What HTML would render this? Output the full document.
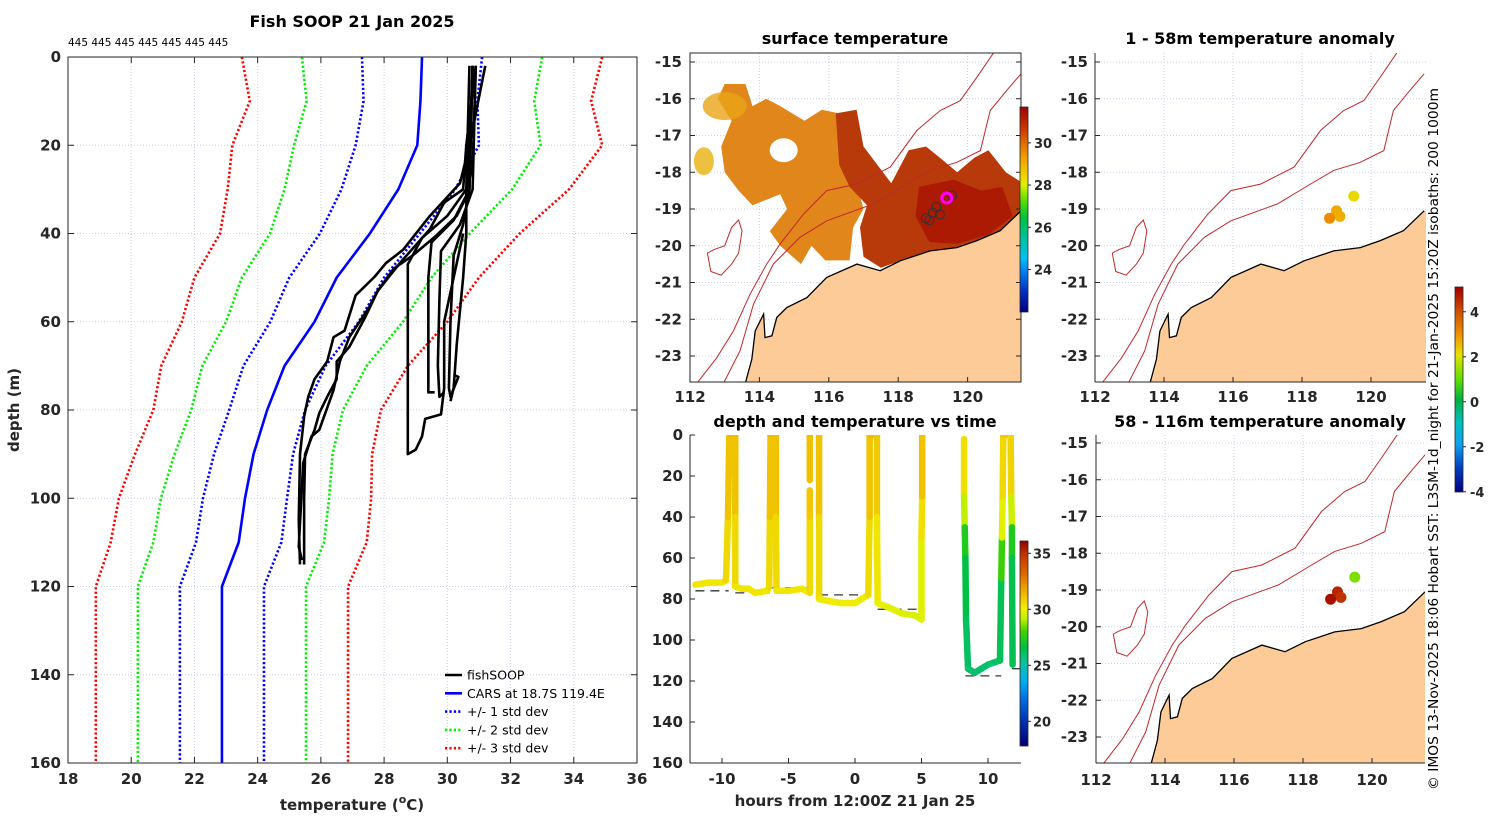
<!DOCTYPE html>
<html><head><meta charset="utf-8">
<style>
html,body{margin:0;padding:0;background:#fff;}
svg{display:block;font-family:"DejaVu Sans","Liberation Sans",sans-serif;}
.tk{font-size:15px;font-weight:bold;fill:#262626;}
.ttl{font-size:16px;font-weight:bold;fill:#000;}
</style></head>
<body>
<svg id="chart" width="1500" height="820" viewBox="0 0 1500 820" xmlns="http://www.w3.org/2000/svg">
<defs>
<clipPath id="clipL"><rect x="68" y="57" width="569" height="706"/></clipPath>
<clipPath id="clipT"><rect x="690" y="435" width="331" height="328"/></clipPath>
<clipPath id="clipM1"><rect x="690" y="53" width="331" height="329"/></clipPath>
<clipPath id="clipM2"><rect x="1095" y="53" width="331" height="329"/></clipPath>
<clipPath id="clipM3"><rect x="1096" y="435" width="329" height="328"/></clipPath>
<linearGradient id="cb1" x1="0" y1="0" x2="0" y2="1">
<stop offset="0" stop-color="#a00000"/><stop offset="0.12" stop-color="#d04000"/><stop offset="0.18" stop-color="#e07000"/><stop offset="0.25" stop-color="#f0a000"/><stop offset="0.33" stop-color="#f0d000"/><stop offset="0.38" stop-color="#e0f000"/><stop offset="0.45" stop-color="#60e000"/><stop offset="0.54" stop-color="#00c040"/><stop offset="0.64" stop-color="#00c0a0"/><stop offset="0.74" stop-color="#00c0f0"/><stop offset="0.8" stop-color="#0080f0"/><stop offset="0.9" stop-color="#0030c0"/><stop offset="1" stop-color="#000080"/>
</linearGradient>
<linearGradient id="cb2" x1="0" y1="0" x2="0" y2="1">
<stop offset="0" stop-color="#900000"/><stop offset="0.06" stop-color="#c03000"/><stop offset="0.17" stop-color="#e07000"/><stop offset="0.25" stop-color="#f0b000"/><stop offset="0.33" stop-color="#f0f000"/><stop offset="0.38" stop-color="#c0f000"/><stop offset="0.44" stop-color="#40d000"/><stop offset="0.52" stop-color="#00c040"/><stop offset="0.6" stop-color="#10c0a0"/><stop offset="0.68" stop-color="#00b0f0"/><stop offset="0.77" stop-color="#0070e0"/><stop offset="0.88" stop-color="#0030b0"/><stop offset="1" stop-color="#000070"/>
</linearGradient>
<linearGradient id="cb3" x1="0" y1="0" x2="0" y2="1">
<stop offset="0" stop-color="#a00000"/><stop offset="0.12" stop-color="#d05000"/><stop offset="0.23" stop-color="#f09000"/><stop offset="0.33" stop-color="#e8e000"/><stop offset="0.45" stop-color="#60e000"/><stop offset="0.55" stop-color="#00b040"/><stop offset="0.66" stop-color="#00c0c0"/><stop offset="0.77" stop-color="#10a0f0"/><stop offset="0.88" stop-color="#0040c0"/><stop offset="1" stop-color="#000080"/>
</linearGradient>
</defs>
</svg>
<script>
// ---------- data: left profile panel ----------
const carsDepth = [0,10,20,30,40,50,60,70,80,90,100,110,120,160];
const carsMean  = [29.2,29.15,29.05,28.45,27.55,26.5,25.8,24.85,24.3,23.87,23.6,23.4,22.87,22.87];
const carsStd   = [1.9,1.8,1.95,1.8,1.58,1.5,1.4,1.3,1.2,1.25,1.33,1.35,1.33,1.33];
const tempTicks = [18,20,22,24,26,28,30,32,34,36];
const depthTicks = [0,20,40,60,80,100,120,140,160];
const fishT = [
 [30.8,30.7,30.4,29.45,28.6,28.06,27.7,27.1,26.75,26.4,26.2,25.8,25.6,25.47,25.34,25.3,25.34],
 [30.9,30.6,30.5,29.9,29.45,28.5,27.8,27.4,26.9,26.5,26.5,26.2,25.95,25.8,25.5,25.47,25.47],
 [31.2,30.7,30.6,30.3,29.6,28.9,28.3,27.8,27.5,26.9,26.6,26.4,25.95,25.7,25.44,25.3,25.4],
 [30.7,30.6,30.0,29.2,28.75,28.75,28.75,29.0,29.2,29.3,29.8,29.9,29.9,30.2,30.5],
 [30.8,30.7,30.2,29.5,29.4,29.4,29.4,29.6],
 [30.9,30.8,30.4,29.8,29.75,29.7,29.75,29.9],
 [30.8,30.7,30.5,30.2,30.1,30.05,30.1,30.35,30.2],
 [30.9,30.8,30.6,30.6,30.5,30.3,30.2,30.1]
];
const fishD = [
 [2,20,28.6,36,43.7,46.7,49.8,54,62,63.5,69,73,77,81.5,90,105,115],
 [2,20,30,33,39,46.7,53,59,65.7,69,73,77,80.7,84.5,90,100,115],
 [2,20,31.7,36,40.8,45,48,53,57,63.5,69,75.5,84.5,86,92,111,114],
 [2,30,36,41,47,70,90,89,86,82,81,75,60,50,40],
 [2,30,37,42,50,65,76,76],
 [2,30,38,44,55,70,77,76],
 [2,30,38,45,60,75,77,72.5,72],
 [2,25,30,40,50,65,75,78]
];
// ---------- data: time panel ----------
const trackH = [-12.0,-11,-10,-9.7,-9.55,-9.45,-9.0,-9.0,-9.0,-8.5,-8,-7.5,-6.6,-6.45,-6.4,-6.35,-5.95,-5.95,-5.9,-5,-4,-3.4,-3.4,-3.4,NaN,-3.4,-3.4,NaN,-2.7,-2.7,-2.7,-2,-1,0,0.5,1.0,1.1,1.1,1.65,1.65,1.7,2.5,3.5,4.5,5.0,5.0,5.05,5.05,NaN,8.2,8.2,8.25,8.3,8.35,8.5,9,9.5,10,10.9,11.0,11.05,11.1,11.15,11.7,11.75,11.8,11.8,11.85];
const trackD = [73,72,72,71,40,0,0,40,74,75,75,77,76,74,40,0,0,40,76,76,75,77,40,27,NaN,22,0,NaN,0,40,80,81,82,82,80,78,40,0,0,40,82,84,87,88,90,50,30,0,NaN,2,30,45,60,90,114,116,114,112,110,70,50,30,0,0,30,45,60,112];
const trackT = [30.2,30.2,30.2,30.2,30.9,31.2,31.2,30.9,30.2,30.2,30.2,30.2,30.2,30.2,30.9,31.2,31.2,30.9,30.2,30.2,30.2,30.2,30.9,31.0,NaN,31.0,31.2,NaN,31.2,30.9,30.2,30.1,30.1,30.1,30.1,30.1,30.9,31.2,31.2,30.6,29.9,29.8,29.6,29.5,29.4,29.9,30.9,31.2,NaN,30.8,30.0,28.0,26.6,26.2,25.8,25.8,25.8,25.8,25.8,26.5,29.2,30.2,30.9,30.9,30.4,28.0,26.5,26.0];
const bathyH0 = [-12.0,-9.0,-6.4,-2.7,1.7,8.3,11.8];
const bathyH1 = [-9.5,-6.4,-3.4,1.1,5.0,11.0,12.4];
const bathyD  = [76,77,74.5,78,85,117.5,114];
const hourTicks = [-10,-5,0,5,10];
// ---------- data: maps ----------
const lonTicks = [112,114,116,118,120];
const latTicks = [-15,-16,-17,-18,-19,-20,-21,-22,-23];
const coastLon = [113.59,113.78,113.88,114.12,114.16,114.36,114.5,114.79,115.37,115.94,116.81,117.48,118.06,118.92,119.69,120.27,120.94,121.54];
const coastLat = [-23.75,-23.09,-22.32,-21.86,-22.5,-22.45,-21.95,-21.68,-21.41,-20.86,-20.5,-20.68,-20.41,-20.14,-20.05,-19.86,-19.59,-19.05];
const iso200Lon = [112.96,113.44,113.83,114.4,115.17,115.94,117.29,118.25,118.92,119.69,120.37,120.65,121.13,121.54];
const iso200Lat = [-23.75,-22.86,-21.59,-20.5,-19.77,-19.32,-18.86,-18.32,-17.95,-17.73,-17.41,-16.32,-15.77,-15.32];
const iso1000Lon = [112.19,112.77,113.25,113.73,114.21,114.6,115.27,115.94,116.81,117.77,118.54,119.21,119.79,120.27,120.75];
const iso1000Lat = [-23.75,-23.05,-22.32,-21.32,-20.5,-19.95,-19.14,-18.5,-18.32,-17.86,-16.86,-16.32,-16.05,-15.41,-14.75];
const islandLon = [112.5,112.6,112.9,113.2,113.4,113.5,113.4,113.2,113.0,112.7,112.5];
const islandLat = [-20.2,-20.7,-20.8,-20.5,-20.2,-19.6,-19.3,-19.5,-20.0,-20.1,-20.2];
const sstOrangeLon = [113.0,113.6,113.8,114.2,114.6,115.3,115.8,116.3,116.4,116.8,117.0,116.7,116.6,115.9,115.5,115.2,114.6,114.3,114.8,114.6,113.8,113.4,113.0,112.9,113.2,112.8];
const sstOrangeLat = [-15.6,-15.6,-16.2,-16.0,-16.2,-16.6,-16.3,-16.4,-17.8,-18.3,-19.0,-19.5,-20.4,-20.4,-20.0,-20.5,-20.0,-19.6,-19.0,-18.6,-18.9,-18.5,-18.0,-17.3,-16.6,-16.0];
const sstRedLon = [116.2,116.8,117.0,117.4,117.8,118.3,118.8,119.2,119.7,120.2,120.6,121.1,121.6,121.6,120.9,120.3,119.7,118.9,118.1,117.5,117.0,116.9,117.1,116.6,116.3];
const sstRedLat = [-16.4,-16.3,-17.3,-17.8,-18.3,-17.4,-17.3,-17.6,-18.0,-17.6,-17.4,-18.0,-18.3,-19.1,-19.6,-19.85,-20.05,-20.15,-20.4,-20.6,-20.3,-19.5,-18.9,-18.4,-17.8];
const sstDarkLon = [118.6,119.6,120.4,121.0,121.3,120.6,119.7,118.9,118.5];
const sstDarkLat = [-18.4,-18.2,-18.5,-18.4,-19.2,-19.7,-19.95,-19.9,-19.2];
const anomLon = [119.5,119.0,119.1,118.8];
const anomLat = [-18.65,-19.05,-19.2,-19.25];
const anomShallow = [2.1,2.7,2.6,3.1];
const anomDeep = [1.2,4.6,4.4,4.9];
const cb1Ticks = [30,28,26,24];
const cb2Ticks = [35,30,25,20];
const cb3Ticks = [4,2,0,-2,-4];

// ---------- helpers ----------
const NS='http://www.w3.org/2000/svg';
const svg=document.getElementById('chart');
function el(tag,attrs,parent){const e=document.createElementNS(NS,tag);for(const k in attrs)e.setAttribute(k,attrs[k]);(parent||svg).appendChild(e);return e;}
function grp(clip){const g=el('g',clip?{'clip-path':'url(#'+clip+')'}:{});return g;}
function interp(stops,v){if(v<=stops[0][0])return stops[0][1];for(let i=1;i<stops.length;i++){if(v<=stops[i][0]){const a=stops[i-1],b=stops[i],f=(v-a[0])/(b[0]-a[0]);const ca=a[1].match(/\w\w/g).map(h=>parseInt(h,16)),cb=b[1].match(/\w\w/g).map(h=>parseInt(h,16));return 'rgb('+ca.map((c,j)=>Math.round(c+(cb[j]-c)*f)).join(',')+')';}}return stops[stops.length-1][1];}
const cmapTime=[[17.8,'#000070'],[20,'#0030b0'],[22,'#0070e0'],[23.5,'#00b0f0'],[25,'#10c0a0'],[26.5,'#00c040'],[28,'#40d000'],[29,'#c0f000'],[30,'#f0f000'],[31.5,'#f0b000'],[33,'#e07000'],[35,'#c03000'],[36.1,'#900000']];
const cmapAnom=[[-4.1,'#000080'],[-3,'#0040c0'],[-2,'#10a0f0'],[-1,'#00c0c0'],[0,'#00b040'],[1,'#60e000'],[2,'#e8e000'],[3,'#f09000'],[4,'#d05000'],[5.1,'#a00000']];

// ---------- LEFT PANEL ----------
const xT=t=>68+(t-18)*31.61, yD=d=>57+d*4.4125;
const gL=grp(null);


tempTicks.forEach(t=>{
  const gl=el('line',{x1:xT(t),x2:xT(t),y1:57,y2:763,stroke:'#c9cfe6','stroke-width':1,'stroke-dasharray':'1,2'},gL);
  
  
  const lb=el('text',{x:xT(t),y:784,'text-anchor':'middle',class:'tk'},gL);lb.textContent=t;
  
  
  el('line',{x1:xT(t),x2:xT(t),y1:763,y2:757,stroke:'#262626'},gL);
  el('line',{x1:xT(t),x2:xT(t),y1:57,y2:63,stroke:'#262626'},gL);
});
depthTicks.forEach(d=>{
  const gl=el('line',{x1:68,x2:637,y1:yD(d),y2:yD(d),stroke:'#c9cfe6','stroke-width':1,'stroke-dasharray':'1,2'},gL);
  
  
  const lb=el('text',{x:61,y:yD(d)+5,'text-anchor':'end',class:'tk'},gL);lb.textContent=d;
  
  
  el('line',{x1:68,x2:74,y1:yD(d),y2:yD(d),stroke:'#262626'},gL);
  el('line',{x1:631,x2:637,y1:yD(d),y2:yD(d),stroke:'#262626'},gL);
});
const gLc=el('g',{'clip-path':'url(#clipL)'},gL);
[[3,'#ff0000'],[2,'#00ee00'],[1,'#0000ff'],[-1,'#0000ff'],[-2,'#00ee00'],[-3,'#ff0000']].forEach(([k,c])=>{
  const pts=carsDepth.map((d,i)=>xT(carsMean[i]+k*carsStd[i])+','+yD(d)).join(' ');
  const p=el('polyline',{points:pts,fill:'none',stroke:c,'stroke-width':2.6,'stroke-dasharray':'2.2,2.2'},gLc);
  
  
});
const mp=el('polyline',{points:carsDepth.map((d,i)=>xT(carsMean[i])+','+yD(d)).join(' '),fill:'none',stroke:'#0000ff','stroke-width':2.6},gLc);


fishT.forEach((arr,j)=>{
  const p=el('polyline',{points:arr.map((t,i)=>xT(t)+','+yD(fishD[j][i])).join(' '),fill:'none',stroke:'#000','stroke-width':2.6,'stroke-linejoin':'round'},gLc);
  
  
});
const boxL=el('rect',{x:68,y:57,width:569,height:706,fill:'none',stroke:'#262626','stroke-width':1},gL);


const tL=el('text',{x:352,y:27,'text-anchor':'middle',class:'ttl'},gL);tL.textContent='Fish SOOP 21 Jan 2025';


const cnt=el('text',{x:68,y:46,'font-size':'10.5px',fill:'#000'},gL);cnt.textContent='445 445 445 445 445 445 445';


const yl=el('text',{x:0,y:0,'text-anchor':'middle',class:'tk',transform:'translate(19,410) rotate(-90)'},gL);yl.textContent='depth (m)';


const xl=el('text',{x:352,y:810,'text-anchor':'middle',class:'tk'},gL);
xl.innerHTML='temperature (<tspan font-size="11" dy="-7">o</tspan><tspan dy="7">C)</tspan>';


// legend
const legItems=[['fishSOOP','#000',''],['CARS at 18.7S 119.4E','#0000ff',''],['+/- 1 std dev','#0000ff','2.2,2.2'],['+/- 2 std dev','#00ee00','2.2,2.2'],['+/- 3 std dev','#ff0000','2.2,2.2']];
legItems.forEach((it,i)=>{
  const y=675+i*18.3;
  const ln=el('line',{x1:445,x2:462,y1:y,y2:y,stroke:it[1],'stroke-width':2.6,'stroke-dasharray':it[2]||'none'},gL);
  
  
  const tx=el('text',{x:467,y:y+4.5,'font-size':'12.5px',fill:'#000'},gL);tx.textContent=it[0];
  
  
});

// ---------- TIME PANEL ----------
const xH=h=>855+h*13.3, yD2=d=>435+d*2.05;
const gT=grp(null);


const gTc=el('g',{'clip-path':'url(#clipT)'},gT);
bathyD.forEach((d,i)=>{
  const b=el('line',{x1:xH(bathyH0[i]),x2:xH(bathyH1[i]),y1:yD2(d),y2:yD2(d),stroke:'#333','stroke-width':1.3,'stroke-dasharray':'9,6'},gTc);
  
  
});
for(let i=1;i<trackH.length;i++){
  if(isNaN(trackH[i])||isNaN(trackH[i-1]))continue;
  const s=el('line',{x1:xH(trackH[i-1]),y1:yD2(trackD[i-1]),x2:xH(trackH[i]),y2:yD2(trackD[i]),stroke:interp(cmapTime,(trackT[i-1]+trackT[i])/2),'stroke-width':6.5,'stroke-linecap':'round'},gTc);
  
  
}
el('line',{x1:690,x2:690,y1:435,y2:763,stroke:'#262626'},gT);
el('line',{x1:690,x2:1021,y1:763,y2:763,stroke:'#262626'},gT);
depthTicks.forEach(d=>{
  el('line',{x1:690,x2:695,y1:yD2(d),y2:yD2(d),stroke:'#262626'},gT);
  const lb=el('text',{x:683,y:yD2(d)+5,'text-anchor':'end',class:'tk'},gT);lb.textContent=d;
  
  
});
hourTicks.forEach(h=>{
  el('line',{x1:xH(h),x2:xH(h),y1:763,y2:758,stroke:'#262626'},gT);
  const lb=el('text',{x:xH(h),y:784,'text-anchor':'middle',class:'tk'},gT);lb.textContent=h;
  
  
});
const tT=el('text',{x:855,y:427,'text-anchor':'middle',class:'ttl'},gT);tT.textContent='depth and temperature vs time';


const tX=el('text',{x:855,y:806,'text-anchor':'middle',class:'tk'},gT);tX.textContent='hours from 12:00Z 21 Jan 25';


// colorbar 2
const cb2=el('rect',{x:1020,y:541,width:8,height:205,fill:'url(#cb2)',stroke:'#262626','stroke-width':0.8},gT);


cb2Ticks.forEach(v=>{const y=541+(36.1-v)*11.2;
  el('line',{x1:1028,x2:1031,y1:y,y2:y,stroke:'#262626'},gT);
  const lb=el('text',{x:1033,y:y+5,'font-size':'13px','font-weight':'bold',fill:'#262626'},gT);lb.textContent=v;
  
  
});

// ---------- MAPS ----------
function drawMap(name,box,ox,sx,oy,clip){
  const X=lon=>ox+(lon-112)*sx, Y=lat=>oy+(-15-lat)*36.75;
  const g=grp(null);
  
  
  const gc=el('g',{'clip-path':'url(#'+clip+')'},g);
  lonTicks.forEach(l=>{const gl=el('line',{x1:X(l),x2:X(l),y1:box[1],y2:box[3],stroke:'#c9cfe6','stroke-dasharray':'1,2'},gc);
    
    });
  latTicks.forEach(l=>{const gl=el('line',{x1:box[0],x2:box[2],y1:Y(l),y2:Y(l),stroke:'#c9cfe6','stroke-dasharray':'1,2'},gc);
    
    });
  return {g,gc,X,Y};
}
function poly(lons,lats,X,Y){return lons.map((l,i)=>X(l).toFixed(1)+','+Y(lats[i]).toFixed(1)).join(' ');}
function addGeo(m,sst){
  const {gc,X,Y}=m;
  if(sst){
    const o=el('polygon',{points:poly(sstOrangeLon,sstOrangeLat,X,Y),fill:'#e0861a'},gc);
    
    
    const hole=el('ellipse',{cx:X(114.7),cy:Y(-17.4),rx:14,ry:12,fill:'#fff'},gc);
    
    
    const r=el('polygon',{points:poly(sstRedLon,sstRedLat,X,Y),fill:'#b83a0a'},gc);
    
    
    const d=el('polygon',{points:poly(sstDarkLon,sstDarkLat,X,Y),fill:'#ad1a04'},gc);
    
    
    const y1=el('ellipse',{cx:X(113.0),cy:Y(-16.2),rx:22,ry:14,fill:'#eaa416',opacity:0.8},gc);
    
    
    const y2=el('ellipse',{cx:X(112.4),cy:Y(-17.7),rx:10,ry:14,fill:'#eab010',opacity:0.8},gc);
    
    
  }
  const land=el('polygon',{points:poly(coastLon.concat([121.7,121.7,113.5]),coastLat.concat([-19.05,-24.5,-24.5]),X,Y),fill:'#fccb98'},gc);
  
  
  const cl=el('polyline',{points:poly(coastLon,coastLat,X,Y),fill:'none',stroke:'#000','stroke-width':1.3},gc);
  
  
  const i2=el('polyline',{points:poly(iso200Lon,iso200Lat,X,Y),fill:'none',stroke:'#c0282a','stroke-width':1},gc);
  
  
  const i1=el('polyline',{points:poly(iso1000Lon,iso1000Lat,X,Y),fill:'none',stroke:'#c0282a','stroke-width':1},gc);
  
  
  const is=el('polygon',{points:poly(islandLon,islandLat,X,Y),fill:'none',stroke:'#c0282a','stroke-width':1},gc);
  
  
}
function axesMap(m,box,latX,lonY,frame){
  const {g,X,Y}=m;
  if(frame){const f=el('rect',{x:box[0],y:box[1],width:box[2]-box[0],height:box[3]-box[1],fill:'none',stroke:'#262626'},g);
    
    }
  else{el('line',{x1:box[0],x2:box[0],y1:box[1],y2:box[3],stroke:'#262626'},g);el('line',{x1:box[0],x2:box[2],y1:box[3],y2:box[3],stroke:'#262626'},g);}
  lonTicks.forEach(l=>{el('line',{x1:X(l),x2:X(l),y1:box[3],y2:box[3]-5,stroke:'#262626'},g);
    const lb=el('text',{x:X(l),y:lonY,'text-anchor':'middle',class:'tk'},g);lb.textContent=l;
    
    });
  latTicks.forEach(l=>{el('line',{x1:box[0],x2:box[0]+5,y1:Y(l),y2:Y(l),stroke:'#262626'},g);
    if(frame)el('line',{x1:box[2],x2:box[2]-5,y1:Y(l),y2:Y(l),stroke:'#262626'},g);
    const lb=el('text',{x:latX,y:Y(l)+5,'text-anchor':'end',class:'tk'},g);lb.textContent=l;
    
    });
}
// map 1
const b1=[690,53,1021,382];
const m1=drawMap('surface-temperature-map',b1,690,34.7,62,'clipM1');
addGeo(m1,true);
[[118.8,-19.25],[119.0,-19.1],[119.1,-18.95],[119.2,-19.15],[118.9,-19.3],[119.55,-18.63]].forEach(p=>{
  const c=el('circle',{cx:m1.X(p[0]),cy:m1.Y(p[1]),r:4.5,fill:'none',stroke:'#333','stroke-width':1.1},m1.gc);
  
  
});
const mag=el('circle',{cx:m1.X(119.4),cy:m1.Y(-18.7),r:5,fill:'none',stroke:'#ff00ff','stroke-width':3},m1.gc);


axesMap(m1,b1,682,402,true);
const t1=el('text',{x:855,y:44,'text-anchor':'middle',class:'ttl'},m1.g);t1.textContent='surface temperature';


const cb1=el('rect',{x:1020,y:107,width:8,height:205,fill:'url(#cb1)',stroke:'#262626','stroke-width':0.8},m1.g);


cb1Ticks.forEach(v=>{const y=107+(31.7-v)*21.1;
  el('line',{x1:1028,x2:1031,y1:y,y2:y,stroke:'#262626'},m1.g);
  const lb=el('text',{x:1034,y:y+5,'font-size':'13px','font-weight':'bold',fill:'#262626'},m1.g);lb.textContent=v;
  
  });
// map 2
const b2=[1095,53,1426,382];
const m2=drawMap('shallow-anomaly-map',b2,1095,34.5,62,'clipM2');
addGeo(m2,false);
anomLon.forEach((l,i)=>{const c=el('circle',{cx:m2.X(l),cy:m2.Y(anomLat[i]),r:5.5,fill:interp(cmapAnom,anomShallow[i])},m2.gc);
  
  });
axesMap(m2,b2,1088,402,false);
const t2=el('text',{x:1260,y:44,'text-anchor':'middle',class:'ttl'},m2.g);t2.textContent='1 - 58m temperature anomaly';


// map 3
const b3=[1096,435,1425,763];
const m3=drawMap('deep-anomaly-map',b3,1096,34.5,443,'clipM3');
addGeo(m3,false);
anomLon.forEach((l,i)=>{const c=el('circle',{cx:m3.X(l),cy:m3.Y(anomLat[i]),r:5.5,fill:interp(cmapAnom,anomDeep[i])},m3.gc);
  
  });
axesMap(m3,b3,1088,785,false);
const t3=el('text',{x:1260,y:427,'text-anchor':'middle',class:'ttl'},m3.g);t3.textContent='58 - 116m temperature anomaly';


// anomaly colorbar
const cb3=el('rect',{x:1455,y:287,width:8,height:205,fill:'url(#cb3)',stroke:'#262626','stroke-width':0.8});


cb3Ticks.forEach(v=>{const y=287+(5.1-v)*22.5;
  el('line',{x1:1463,x2:1466,y1:y,y2:y,stroke:'#262626'});
  const lb=el('text',{x:1470,y:y+5,'font-size':'13px','font-weight':'bold',fill:'#262626'});lb.textContent=v;
  
  });
// credit text
const cr=el('text',{x:0,y:0,'font-size':'13px',fill:'#000',transform:'translate(1438,790) rotate(-90)',textLength:702,lengthAdjust:'spacingAndGlyphs'});
cr.textContent='© IMOS 13-Nov-2025 18:06 Hobart SST: L3SM-1d_night for 21-Jan-2025 15:20Z isobaths: 200  1000m';


</script>
</body></html>
